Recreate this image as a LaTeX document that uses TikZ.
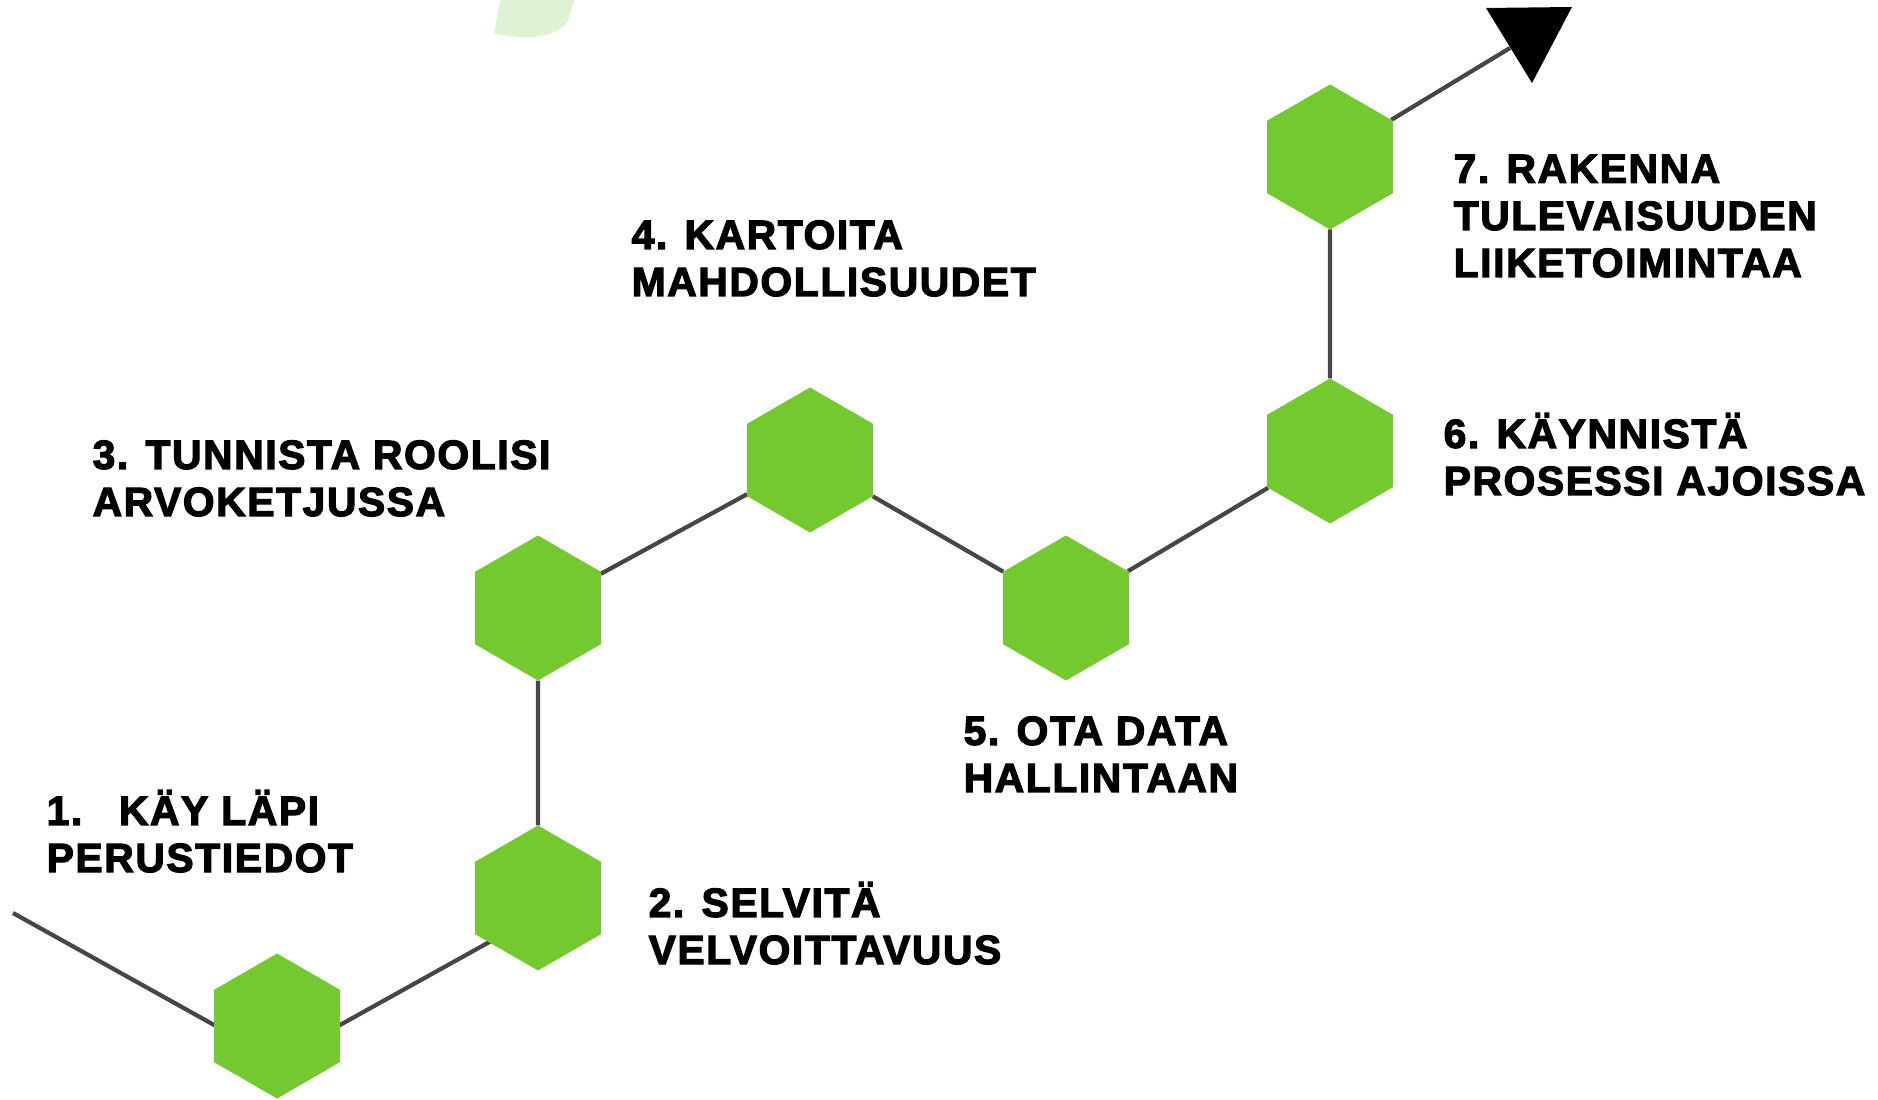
\documentclass[tikz,border=0pt]{standalone}
\usepackage{fontspec}
\newfontfamily\stepfont{Liberation Sans}[BoldFeatures={FakeBold=3},LetterSpace=4]
\usetikzlibrary{shapes.geometric,positioning,calc,backgrounds}
\definecolor{hexgreen}{RGB}{116,200,48}
\definecolor{linegray}{RGB}{70,70,70}
\definecolor{palegreen}{RGB}{224,242,212}

\begin{document}
\begin{tikzpicture}[
  hexa/.style={regular polygon, regular polygon sides=6, rotate=30, fill=hexgreen,
    minimum size=1.45cm, inner sep=0pt, outer sep=0pt},
  link/.style={draw=linegray, line width=1.2pt},
  steplabel/.style={anchor=base west, align=left, inner sep=0pt,
    font=\stepfont\bfseries\fontsize{11.6}{13.4}\selectfont}
]
  \useasboundingbox (0,0) rectangle (18.78,10.99);

  % faint leaf at the top edge
  \fill[palegreen] (5.00,10.99) -- (4.94,10.66) .. controls (5.15,10.60) and (5.55,10.58) .. (5.68,10.78) -- (5.74,10.99) -- cycle;

  % hexagons
  \node[hexa] (h1) at (2.77,0.73) {};
  \node[hexa] (h2) at (5.38,2.01) {};
  \node[hexa] (h3) at (5.38,4.91) {};
  \node[hexa] (h4) at (8.10,6.39) {};
  \node[hexa] (h5) at (10.66,4.91) {};
  \node[hexa] (h6) at (13.30,6.48) {};
  \node[hexa] (h7) at (13.30,9.42) {};

  \coordinate (start) at (0.13,1.86);
  \coordinate (low1) at ($ (h1)+(0,-0.34) $);
  \coordinate (low2) at ($ (h2)+(0,-0.17) $);
  \coordinate (tip) at (15.10,10.51);

  \begin{scope}[on background layer]
    \draw[link] (start) -- (low1) -- (low2);
    \foreach \a/\b in {h2/h3,h3/h4,h4/h5,h5/h6,h6/h7,h7/tip}{
      \draw[link] (\a) -- (\b);
    }
  \end{scope}

  % arrow head
  \fill[black] (14.86,10.91) -- (15.72,10.92) -- (15.32,10.16) -- cycle;

  % labels (anchored at the baseline of the last line)
  \node[steplabel] (t1) at (0.46,2.27) {1.\hspace{0.9em}KÄY LÄPI\\PERUSTIEDOT};
  \node[steplabel] (t2) at (6.48,1.35) {2. SELVITÄ\\VELVOITTAVUUS};
  \node[steplabel] (t3) at (0.92,5.83) {3. TUNNISTA ROOLISI\\ARVOKETJUSSA};
  \node[steplabel] (t4) at (6.31,8.03) {4. KARTOITA\\MAHDOLLISUUDET};
  \node[steplabel] (t5) at (9.63,3.07) {5. OTA DATA\\HALLINTAAN};
  \node[steplabel] (t6) at (14.43,6.04) {6. KÄYNNISTÄ\\PROSESSI AJOISSA};
  \node[steplabel] (t7) at (14.53,8.22) {7. RAKENNA\\TULEVAISUUDEN\\LIIKETOIMINTAA};

\end{tikzpicture}
\end{document}
